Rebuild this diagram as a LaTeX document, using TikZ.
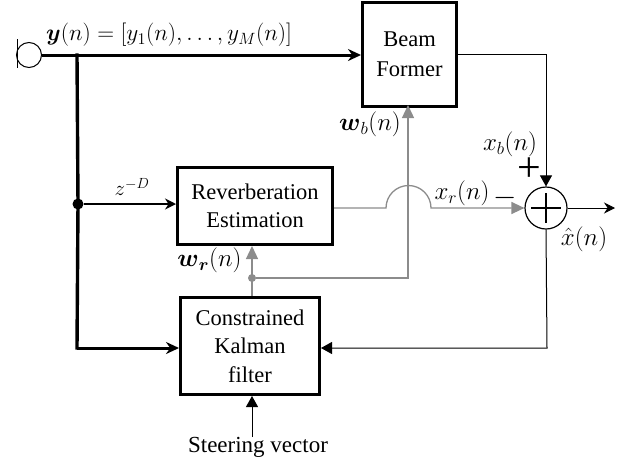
\RequirePackage{fix-cm}
\documentclass[tikz,border=0pt]{standalone}
\usepackage{amsmath}
\usepackage{fontspec}
\setmainfont{Liberation Serif}
\usetikzlibrary{arrows.meta}
\definecolor{gline}{RGB}{140,140,140}
\tikzset{
  x=1pt,y=-1pt,
  blockbox/.style={draw=black,line width=3pt,fill=white,align=center,font=\fontsize{22.5}{28.5}\selectfont,inner sep=0pt,anchor=north west},
  lbl/.style={inner sep=0pt,font=\fontsize{25}{29}\selectfont},
  thickline/.style={line width=3.4pt,line cap=rect},
  thinline/.style={line width=1pt,black},
  greyline/.style={line width=1.3pt,gline},
  bigtip/.style={-{Triangle[length=11pt,width=12pt]}},
  stealthtip/.style={-{Stealth[length=11pt,width=11pt]}},
  dotnode/.style={circle,inner sep=0pt,minimum size=#1},
}
\begin{document}
\begin{tikzpicture}
\useasboundingbox (0,0) rectangle (628,461);
% blocks
\node[blockbox,minimum width=94pt,minimum height=104pt] (beam) at (361,1) {Beam\\[1.5pt]Former};
\node[blockbox,minimum width=155pt,minimum height=77pt] (rev) at (176,166) {Reverberation\\Estimation};
\node[blockbox,minimum width=139pt,minimum height=97pt] (kal) at (179,296) {Constrained\\Kalman\\filter};
\node[draw=black,line width=1.2pt,circle,minimum size=42pt,inner sep=0pt] (sum) at (546,208) {};
\node[draw=black,line width=1pt,circle,minimum size=25pt,inner sep=0pt] (mic) at (29,55) {};
% mic bar
\coordinate (bara) at (17,39);
\coordinate (barb) at (17,68);
\draw[line width=.8pt] (bara) -- (barb);
% coordinates
\coordinate (tap) at (77,55);
\coordinate (lowcorner) at (77,348);
\node[fill=black,dotnode=11pt] (junc) at (78,204) {};
\coordinate (beamin) at (beam.west |- tap);
\coordinate (revin) at (rev.west |- junc);
\coordinate (kalin) at (kal.west |- lowcorner);
\coordinate (beamout) at (455,54);
\coordinate (bcorner) at (sum.north |- beamout);
\coordinate (fbcorner) at (547,348);
\coordinate (kalinr) at (kal.east |- fbcorner);
\coordinate (out) at (615,208);
\coordinate (revout) at (rev.east |- sum);
\coordinate (jumpa) at (386,208);
\node[fill=gline,dotnode=8pt] (split) at (252,278) {};
\coordinate (gcorner) at (408,278);
\coordinate (beamw) at (408,105);
\coordinate (steer) at (252,437);
% thick
\draw[line width=3pt,-{Stealth[length=13pt,width=12pt]}] (mic.east) -- (beamin);
\draw[thickline] (tap) -- (junc.center) -- (lowcorner);
\draw[line width=3pt,-{Stealth[length=13pt,width=12pt]}] (lowcorner) -- (kalin);
\draw[line width=1.8pt,stealthtip] (junc) -- (revin);
% grey
\draw[greyline,-{Triangle[length=13pt,width=12pt]}] (revout) -- (jumpa) arc[start angle=180,end angle=0,radius=22.5pt] -- (sum.west);
\draw[greyline,-{Triangle[length=13pt,width=12pt]}] (kal.north -| split) -- (rev.south -| split);
\draw[greyline,-{Triangle[length=13pt,width=12pt]}] (split) -- (gcorner) -- (beamw);
% thin
\draw[thinline,bigtip] (beamout) -- (bcorner) -- (sum.north);
\draw[thinline,bigtip] (sum.south) -- (fbcorner) -- (kalinr);
\draw[thinline,stealthtip] (sum.east) -- (out);
\draw[thinline,bigtip] (steer) -- (kal.south -| steer);
% plus in sum
\draw[line width=1.4pt] (sum.center) ++(-15,0) coordinate (pa) -- ++(30,0) coordinate (pb);
\draw[line width=1.4pt] (sum.center) ++(0,-15) coordinate (pc) -- ++(0,30) coordinate (pd);
% labels
\node[lbl,anchor=west,font=\fontsize{23.3}{28}\selectfont] (ylbl) at (46,35) {$\boldsymbol{y}(n)=[y_1(n),\dots,y_M(n)]$};
\node[lbl,font=\fontsize{21}{25}\selectfont] (zlbl) at (132,187) {$z^{-D}$};
\node[lbl] (wb) at (370,124) {$\boldsymbol{w}_b(n)$};
\node[lbl] (wr) at (209.5,260) {$\boldsymbol{w}_{\boldsymbol{r}}(n)$};
\node[lbl] (xb) at (510,144) {$x_b(n)$};
\node[lbl] (xr) at (462,193) {$x_r(n)$};
\node[lbl] (xh) at (584,239) {$\hat{x}(n)$};
\node[inner sep=0pt,anchor=base,font=\fontsize{42}{42}\selectfont] (plus) at (529,181) {\smash{+}};
\node[inner sep=0pt,font=\fontsize{30}{30}\selectfont] (minus) at (505.5,197.5) {$-$};
\node[inner sep=0pt,font=\fontsize{23}{27}\selectfont] (steerlbl) at (258,447) {Steering vector};
\end{tikzpicture}
\end{document}
